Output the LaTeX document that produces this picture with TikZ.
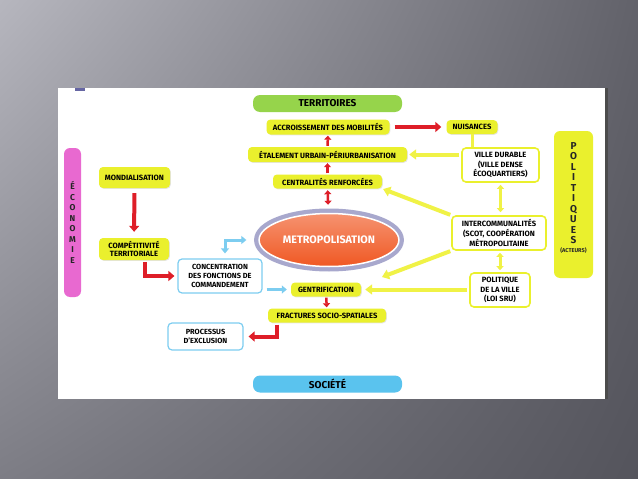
\documentclass[tikz,border=0pt]{standalone}
\usepackage{fontspec}
\setmainfont{Fira Sans}
\usetikzlibrary{arrows.meta,shapes.geometric,shadows,shadings}
\definecolor{redc}{RGB}{222,30,40}
\definecolor{yelc}{RGB}{234,240,45}
\definecolor{yelarr}{RGB}{240,242,70}
\definecolor{bluec}{RGB}{125,205,240}
\definecolor{greenc}{RGB}{150,212,75}
\definecolor{socc}{RGB}{90,195,238}
\definecolor{pinkc}{RGB}{232,105,208}
\definecolor{orangec}{RGB}{240,88,35}
\definecolor{ringc}{RGB}{168,168,205}
\definecolor{bgA}{RGB}{182,182,190}
\definecolor{bgB}{RGB}{98,98,106}
\definecolor{bgC}{RGB}{125,125,133}
\definecolor{bgD}{RGB}{84,84,92}
\tikzset{
  ybox/.style={fill=yelc, rounded corners=4pt, align=center, inner sep=1.5pt,
    font=\bfseries\fontsize{7.6}{8.8}\selectfont,
    drop shadow={opacity=0.2, shadow xshift=0.8pt, shadow yshift=-0.8pt}},
  wyel/.style={fill=white, draw=yelc, line width=1.6pt, rounded corners=4pt, align=center,
    inner sep=1.5pt, font=\bfseries\fontsize{7.6}{9.8}\selectfont},
  wblue/.style={fill=white, draw=bluec, line width=1.2pt, rounded corners=4pt, align=center,
    inner sep=1.5pt, font=\bfseries\fontsize{7.4}{9.2}\selectfont},
  title/.style={rounded corners=7pt, minimum width=149pt, minimum height=17pt,
    font=\bfseries\fontsize{10}{11}\selectfont},
  side/.style={rounded corners=6pt, align=center, inner sep=1pt},
  metro/.style={ellipse, minimum width=120pt, minimum height=53pt,
    top color=orangec!65!white, bottom color=orangec, draw=white, line width=1.5pt,
    preaction={draw=ringc, line width=10pt}, text=white,
    font=\bfseries\fontsize{10.8}{12}\selectfont},
  redbig/.style={draw=redc, line width=4pt, -{Triangle[length=6pt,width=10pt]}},
  redsmall/.style={draw=redc, line width=2.5pt, -{Triangle[length=4pt,width=7pt]}},
  reddbl/.style={draw=redc, line width=2.5pt, {Triangle[length=4pt,width=7pt]}-{Triangle[length=4pt,width=7pt]}},
  bluearr/.style={draw=bluec, line width=3pt, -{Triangle[length=5pt,width=8pt]}},
  bluedbl/.style={draw=bluec, line width=3pt, {Triangle[length=5pt,width=8pt]}-{Triangle[length=5pt,width=8pt]}},
  yarr/.style={draw=yelarr, line width=4pt, -{Triangle[length=7pt,width=10pt]}},
  ydbl/.style={draw=yelarr, line width=3pt, {Triangle[length=4pt,width=7pt]}-{Triangle[length=4pt,width=7pt]}},
  yline/.style={draw=yelarr, line width=3pt}
}
\begin{document}
\begin{tikzpicture}[x=1pt,y=-1pt]
\useasboundingbox (0,0) rectangle (638,479);
% slide background and panel
\shade[upper left=bgA, upper right=bgB, lower left=bgC, lower right=bgD] (0,0) rectangle (638,479);
\fill[black!70] (605,88) rectangle (608,399);
\fill[white] (58,88) rectangle (605,399);
\fill[blue!40!black!60] (75,88) rectangle (85,91);

% TERRITOIRES column
\node[title, fill=greenc] (terr) at (327.5,103.5) {TERRITOIRES};
\node[ybox, minimum width=123pt, minimum height=15pt] (acc) at (328,127) {ACCROISSEMENT DES MOBILITÉS};
\node[ybox, minimum width=51pt, minimum height=14pt] (nuis) at (472,127) {NUISANCES};
\node[ybox, minimum width=159pt, minimum height=15pt] (etal) at (327.5,154.5) {ÉTALEMENT URBAIN-PÉRIURBANISATION};
\node[ybox, minimum width=109pt, minimum height=14pt] (centr) at (327.5,181.5) {CENTRALITÉS RENFORCÉES};
\node[metro] (metro) at (329,240) {METROPOLISATION};
\node[ybox, minimum width=70pt, minimum height=14pt] (gentr) at (326,289.5) {GENTRIFICATION};
\node[ybox, minimum width=118pt, minimum height=14pt] (fract) at (327,315.5) {FRACTURES SOCIO-SPATIALES};
\node[title, fill=socc] (soc) at (327.5,384) {SOCIÉTÉ};

% economie
\node[side, fill=pinkc, minimum width=17pt, minimum height=149pt,
  font=\bfseries\fontsize{8.5}{10.5}\selectfont, text=black!85] (eco) at (72.5,222.5) {É\\C\\O\\N\\O\\M\\I\\E};
\node[ybox, minimum width=71pt, minimum height=21pt] (mond) at (134.5,177.5) {MONDIALISATION};
\node[ybox, minimum width=70pt, minimum height=22pt] (compet) at (134,249) {COMPÉTITIVITÉ\\TERRITORIALE};
\node[wblue, minimum width=84pt, minimum height=34pt] (concent) at (220,276) {CONCENTRATION\\DES FONCTIONS DE\\COMMANDEMENT};
\node[wblue, minimum width=75pt, minimum height=27pt] (proc) at (205.5,336.5) {PROCESSUS\\D'EXCLUSION};

% politiques
\node[side, fill=yelc, minimum width=39pt, minimum height=147pt,
  font=\bfseries\fontsize{10}{10.5}\selectfont, text=black!85] (pol) at (573.5,204.5)
  {P\\O\\L\\I\\T\\I\\Q\\U\\E\\S\\[-2pt]{\fontsize{5.6}{6}\selectfont(ACTEURS)}\\[4pt]{}};
\node[wyel, minimum width=77pt, minimum height=34pt] (ville) at (500.5,165) {VILLE DURABLE\\(VILLE DENSE\\ÉCOQUARTIERS)};
\node[wyel, minimum width=94pt, minimum height=34pt] (inter) at (499,233) {INTERCOMMUNALITÉS\\(SCOT, COOPÉRATION\\MÉTROPOLITAINE};
\node[wyel, minimum width=60pt, minimum height=34pt] (polv) at (500,290) {POLITIQUE\\DE LA VILLE\\(LOI SRU)};
\coordinate (metroarr) at (382,277);

% red links
\draw[redbig, shorten <=5pt, shorten >=5pt] (acc) -- (nuis);
\draw[redsmall, shorten <=1pt, shorten >=1pt] (etal) -- (acc);
\draw[redsmall, shorten <=1pt, shorten >=1pt] (centr) -- (etal);
\draw[reddbl, shorten <=1.5pt, shorten >=8pt] (centr) -- (metro);
\draw[redbig, shorten <=5pt, shorten >=6pt] (mond) -- (compet);
\draw[redbig, shorten <=2pt, shorten >=3pt] ([xshift=11pt]compet.south) |- (concent.west);
\draw[redsmall, shorten <=1pt, shorten >=1pt] (gentr) -- (fract);
\draw[redbig, shorten <=2pt, shorten >=5pt] ([xshift=9pt]fract.south west) |- (proc.east);

% blue links
\draw[bluedbl, shorten <=5pt, shorten >=12pt] ([xshift=5pt]concent.north) |- (metro.west);
\draw[bluearr, shorten <=4pt, shorten >=4pt] (concent.east |- gentr.west) -- (gentr.west);

% yellow links
\draw[yline] (nuis.south) -- (nuis.south |- ville.north);
\draw[yarr, shorten <=2pt, shorten >=2pt] (ville.west |- etal.east) -- (etal.east);
\draw[ydbl, shorten <=2pt, shorten >=3pt] (ville.south) -- (ville.south |- inter.north);
\draw[yarr, shorten <=1pt, shorten >=1pt] (inter.north west) -- (centr.south east);
\draw[yarr, shorten <=1pt] (inter.south west) -- (metroarr);
\draw[ydbl, shorten <=2pt, shorten >=2pt] (polv.north |- inter.south) -- (polv.north);
\draw[yarr, shorten <=2pt, shorten >=4pt] (polv.west |- gentr.east) -- (gentr.east);
\end{tikzpicture}
\end{document}
